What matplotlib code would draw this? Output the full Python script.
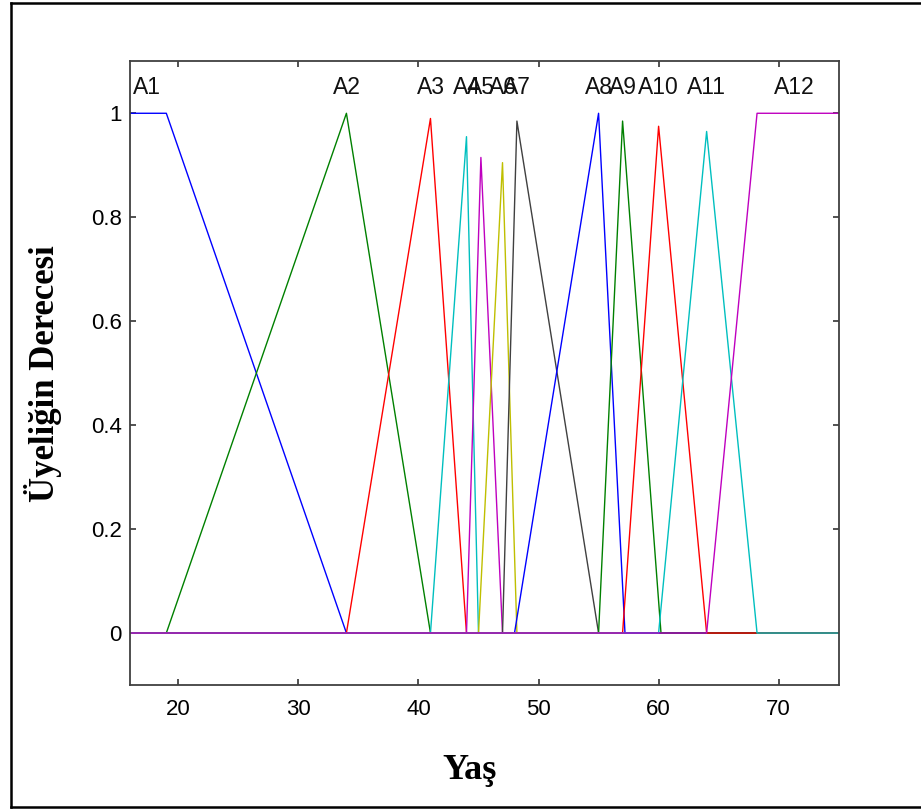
import matplotlib.pyplot as plt
from matplotlib.lines import Line2D

# membership functions of "Yaş", given as polyline vertices (x, degree)
LABELS = ["A1", "A2", "A3", "A4", "A5", "A6", "A7", "A8", "A9", "A10", "A11", "A12"]

MF_X = [
    [16, 19, 34, 75],
    [16, 19, 34, 41, 75],
    [16, 34, 41, 44, 75],
    [16, 41, 44, 45, 75],
    [16, 44, 45.2, 47, 75],
    [16, 45, 47, 48.2, 75],
    [16, 47, 48.2, 55, 75],
    [16, 48, 55, 57.2, 75],
    [16, 55, 57, 60.2, 75],
    [16, 57, 60, 64, 75],
    [16, 60, 64, 68.2, 75],
    [16, 64, 68.2, 75],
]
MF_Y = [
    [1, 1, 0, 0],
    [0, 0, 1.0, 0, 0],
    [0, 0, 0.99, 0, 0],
    [0, 0, 0.955, 0, 0],
    [0, 0, 0.915, 0, 0],
    [0, 0, 0.905, 0, 0],
    [0, 0, 0.985, 0, 0],
    [0, 0, 1.0, 0, 0],
    [0, 0, 0.985, 0, 0],
    [0, 0, 0.975, 0, 0],
    [0, 0, 0.965, 0, 0],
    [0, 0, 1, 1],
]
LABEL_X = [17.4, 34, 41, 44, 45.2, 47, 48.2, 55, 57, 60, 64, 71.3]

COLORS = ["#0000ff", "#008000", "#ff0000", "#00bfbf", "#bf00bf", "#bfbf00", "#404040"]

XTICKS = [20, 30, 40, 50, 60, 70]
YTICKS = [0, 0.2, 0.4, 0.6, 0.8, 1]
YTICKLABELS = ["0", "0.2", "0.4", "0.6", "0.8", "1"]

SANS = "Liberation Sans"
SERIF = "Liberation Serif"


def main() -> None:
    fig = plt.figure(figsize=(9.21, 8.09), dpi=100)
    ax = fig.add_axes([130.3 / 921, 1 - 685 / 809, 708.4 / 921, 623.7 / 809])

    for i, (xs, ys) in enumerate(zip(MF_X, MF_Y)):
        ax.plot(xs, ys, color=COLORS[i % len(COLORS)], linewidth=1.0)

    for name, lx in zip(LABELS, LABEL_X):
        ax.text(lx, 1.05, name, ha="center", va="center", fontsize=16.5,
                family=SANS, color="#111111")

    ax.set_xlim(16, 75)
    ax.set_ylim(-0.1, 1.1)
    ax.set_xticks(XTICKS)
    ax.set_yticks(YTICKS)
    ax.set_xticklabels([str(t) for t in XTICKS], fontsize=16, family=SANS)
    ax.set_yticklabels(YTICKLABELS, fontsize=16, family=SANS)
    ax.tick_params(axis="both", direction="in", length=4, width=1.2, color="#333333",
                   top=True, right=True)
    ax.tick_params(axis="x", pad=10)
    ax.tick_params(axis="y", pad=6)
    for spine in ax.spines.values():
        spine.set_color("#404040")
        spine.set_linewidth(1.3)

    ax.set_xlabel("Yaş", fontsize=26, fontweight="bold", family=SERIF)
    ax.xaxis.set_label_coords((470 - 130.3) / 708.4, -0.11)
    ax.set_ylabel("Üyeliğin Derecesi", fontsize=25, fontweight="bold", family=SERIF)
    ax.yaxis.set_label_coords(-(130.3 - 62) / 708.4, 0.5)

    # outer frame (left, top, bottom edges)
    for xs, ys in [([11 / 921, 11 / 921], [1 - 3 / 809, 1 - 807 / 809]),
                   ([11 / 921, 1.0], [1 - 3 / 809, 1 - 3 / 809]),
                   ([11 / 921, 1.0], [1 - 807 / 809, 1 - 807 / 809])]:
        fig.add_artist(Line2D(xs, ys, transform=fig.transFigure, color="black", linewidth=1.8))

    fig.savefig("out.png", dpi=100)
    plt.close(fig)


if __name__ == "__main__":
    main()
